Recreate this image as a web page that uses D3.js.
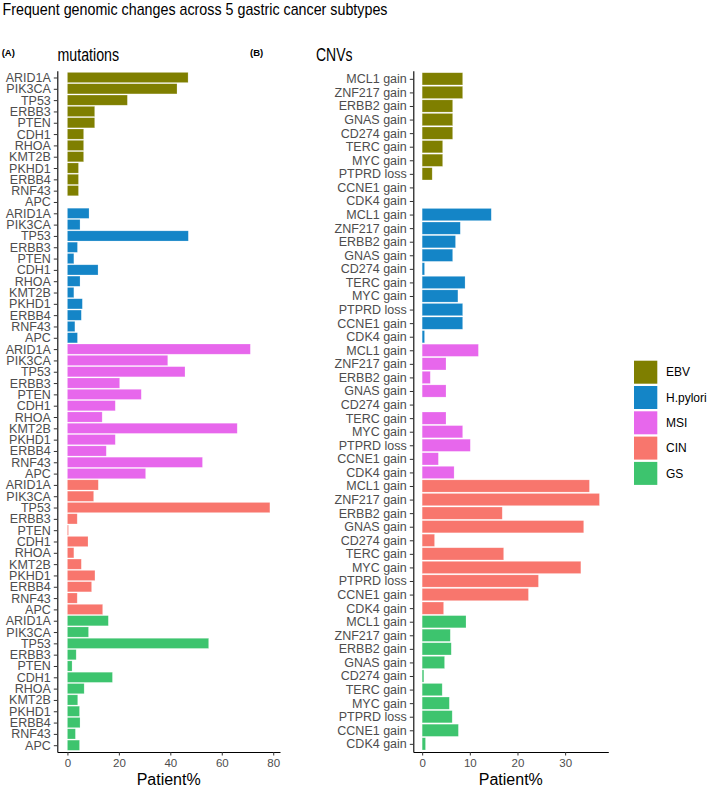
<!DOCTYPE html>
<html>
<head>
<meta charset="utf-8">
<script src="https://cdn.jsdelivr.net/npm/d3@7"></script>
<style>
  body { margin: 0; background: #fff; }
  svg { display: block; font-family: "Liberation Sans", Arial, sans-serif; }
</style>
</head>
<body>
<svg id="chart" width="709" height="787"></svg>
<script>
// ---------------- data ----------------
const subtypes = ["EBV", "H.pylori", "MSI", "CIN", "GS"];
const subtypeColors = ["#7f7f00", "#1485c7", "#e767ec", "#f8766d", "#3dc46e"];

const mutGenes = ["ARID1A", "PIK3CA", "TP53", "ERBB3", "PTEN", "CDH1", "RHOA", "KMT2B", "PKHD1", "ERBB4", "RNF43", "APC"];
const mutEBV     = [46.9, 42.6, 23.3, 10.6, 10.6, 6.3, 6.3, 6.3, 4.3, 4.3, 4.3, 0];
const mutHpylori = [8.4, 4.9, 47.0, 3.9, 2.5, 11.9, 4.9, 2.5, 5.8, 5.4, 2.9, 3.9];
const mutMSI     = [71.1, 39.0, 45.7, 20.3, 28.7, 18.6, 13.5, 66.0, 18.6, 15.1, 52.5, 30.4];
const mutCIN     = [12.0, 10.2, 78.7, 3.8, 0.4, 8.0, 2.5, 5.4, 10.7, 9.4, 3.8, 13.7];
const mutGS      = [15.9, 8.2, 54.9, 3.4, 1.8, 17.5, 6.5, 4.0, 4.7, 4.9, 3.1, 4.7];

const cnvGenes = ["MCL1 gain", "ZNF217 gain", "ERBB2 gain", "GNAS gain", "CD274 gain", "TERC gain", "MYC gain", "PTPRD loss", "CCNE1 gain", "CDK4 gain"];
const cnvEBV     = [8.5, 8.5, 6.4, 6.4, 6.4, 4.3, 4.3, 2.1, 0, 0];
const cnvHpylori = [14.5, 8.0, 7.0, 6.4, 0.5, 9.0, 7.5, 8.5, 8.5, 0.5];
const cnvMSI     = [11.8, 5.0, 1.7, 5.0, 0, 5.0, 8.5, 10.1, 3.4, 6.7];
const cnvCIN     = [35.1, 37.2, 16.8, 33.9, 2.6, 17.1, 33.3, 24.4, 22.3, 4.5];
const cnvGS      = [9.2, 5.9, 6.1, 4.7, 0.35, 4.2, 5.7, 6.3, 7.6, 0.7];

const mutValues = [mutEBV, mutHpylori, mutMSI, mutCIN, mutGS];
const cnvValues = [cnvEBV, cnvHpylori, cnvMSI, cnvCIN, cnvGS];

const xTicksA = [0, 20, 40, 60, 80];
const xTicksB = [0, 10, 20, 30];

// ---------------- drawing ----------------
const svg = d3.select("#chart");
const color = d3.scaleOrdinal().domain(subtypes).range(subtypeColors);

function build(genes, values) {
  const rows = [];
  subtypes.forEach((s, i) => genes.forEach((g, j) => rows.push({ key: s + "|" + g, subtype: s, gene: g, value: values[i][j] })));
  return rows;
}

function panel(rows, xLeft, xRight, ticks) {
  const top = 70.7, bottom = 752;
  const M = d3.max(rows, d => d.value);
  const x = d3.scaleLinear().domain([-0.05 * M, 1.05 * M]).range([xLeft, xRight]);
  const y = d3.scalePoint().domain(rows.map(d => d.key)).range([top, bottom]).padding(0.6);
  const bh = y.step() * 0.9;
  const g = svg.append("g");

  g.selectAll("rect.bar").data(rows.filter(d => d.value > 0)).join("rect")
    .attr("class", "bar")
    .attr("x", x(0))
    .attr("y", d => y(d.key) - bh / 2)
    .attr("width", d => x(d.value) - x(0))
    .attr("height", bh)
    .attr("fill", d => color(d.subtype))
    .attr("stroke", "#ffffff").attr("stroke-opacity", 0.35).attr("stroke-width", 0.6);

  const ya = g.append("g").attr("transform", `translate(${xLeft},0)`)
    .call(d3.axisLeft(y).tickSize(3.5).tickSizeOuter(0).tickPadding(3).tickFormat(k => k.split("|")[1]));
  ya.selectAll("text").attr("font-size", 12.5).attr("fill", "#4d4d4d").attr("font-family", "Liberation Sans, Arial, sans-serif");
  ya.selectAll(".tick line").attr("stroke", "#333").attr("stroke-width", 1);
  ya.select(".domain").attr("stroke", "#000").attr("stroke-width", 1.1);

  const xa = g.append("g").attr("transform", `translate(0,${bottom})`)
    .call(d3.axisBottom(x).tickValues(ticks).tickSize(3.5).tickSizeOuter(0).tickPadding(3));
  xa.selectAll("text").attr("font-size", 11.5).attr("fill", "#4d4d4d").attr("font-family", "Liberation Sans, Arial, sans-serif");
  xa.selectAll(".tick line").attr("stroke", "#333").attr("stroke-width", 1);
  xa.select(".domain").attr("stroke", "#000").attr("stroke-width", 1.1);

  svg.append("text").attr("x", (xLeft + xRight) / 2).attr("y", 785)
    .attr("text-anchor", "middle").attr("font-size", 16).attr("fill", "#000").text("Patient%");
}

panel(build(mutGenes, mutValues), 57.3, 280, xTicksA);
panel(build(cnvGenes, cnvValues), 413.3, 608.3, xTicksB);

// titles
svg.append("text").attr("x", 2.5).attr("y", 15).attr("font-size", 17).attr("fill", "#000")
  .attr("textLength", 385).attr("lengthAdjust", "spacingAndGlyphs")
  .text("Frequent genomic changes across 5 gastric cancer subtypes");
svg.append("text").attr("x", 1.7).attr("y", 56).attr("font-size", 9.5).attr("font-weight", "bold").text("(A)");
svg.append("text").attr("x", 250).attr("y", 56).attr("font-size", 9.5).attr("font-weight", "bold").text("(B)");
svg.append("text").attr("x", 57.5).attr("y", 60.5).attr("font-size", 17.5)
  .attr("textLength", 61.5).attr("lengthAdjust", "spacingAndGlyphs").text("mutations");
svg.append("text").attr("x", 316).attr("y", 60.5).attr("font-size", 17.5)
  .attr("textLength", 36.5).attr("lengthAdjust", "spacingAndGlyphs").text("CNVs");

// legend
const lg = svg.append("g").attr("transform", "translate(634,360.7)");
subtypes.forEach((s, i) => {
  lg.append("rect").attr("x", 0).attr("y", i * 25.3).attr("width", 23.3).attr("height", 23)
    .attr("fill", color(s));
  lg.append("text").attr("x", 32).attr("y", i * 25.3 + 11.5).attr("dy", "0.35em")
    .attr("font-size", 12).attr("fill", "#000").text(s);
});
</script>
</body>
</html>
